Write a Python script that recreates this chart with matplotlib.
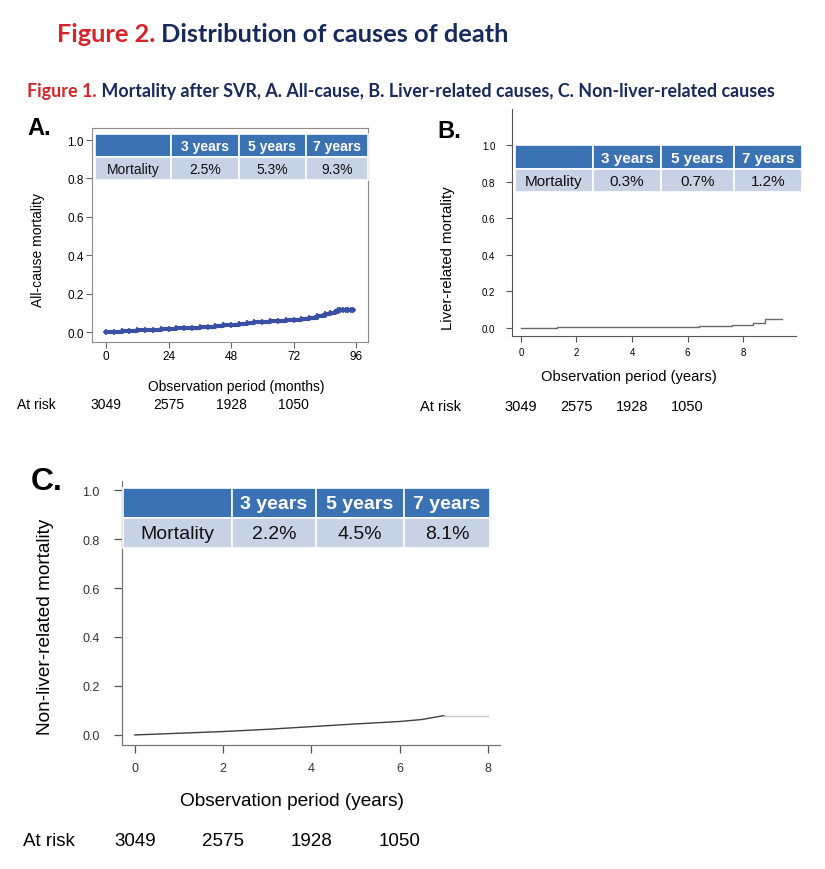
import matplotlib
matplotlib.use('Agg')
import matplotlib.pyplot as plt
import matplotlib.transforms as mtransforms
from matplotlib.patches import Rectangle

plt.rcParams['font.family'] = ['Liberation Sans', 'DejaVu Sans']

# A: all-cause mortality (months)
a_months = [0, 3, 6, 9, 12, 15, 18, 21, 24, 27, 30, 33, 36, 39, 42, 45, 48, 51, 54,
            57, 60, 63, 66, 69, 72, 75, 78, 81, 84, 86, 88, 89, 90, 91, 92, 93, 94, 95]
a_mort = [0.0, 0.002, 0.004, 0.006, 0.009, 0.011, 0.013, 0.015, 0.017, 0.019, 0.021,
          0.023, 0.025, 0.028, 0.031, 0.034, 0.038, 0.042, 0.046, 0.050, 0.053, 0.055,
          0.057, 0.060, 0.063, 0.068, 0.075, 0.083, 0.092, 0.098, 0.102, 0.117, 0.117,
          0.117, 0.117, 0.117, 0.117, 0.117]

# B: liver-related mortality (years)
b_years = [0, 1.3, 4.75, 6.4, 7.6, 8.35, 8.8, 9.4]
b_mort = [0.0, 0.003, 0.007, 0.011, 0.016, 0.025, 0.048, 0.048]

# C: non-liver-related mortality (years)
c_years = [0, 1, 2, 3, 4, 5, 6, 6.5, 7]
c_mort = [0.0, 0.007, 0.014, 0.023, 0.034, 0.045, 0.055, 0.063, 0.079]
c_tail_years = [7, 8]
c_tail_mort = [0.079, 0.079]

table_head = ['', '3 years', '5 years', '7 years']
a_table = ['Mortality', '2.5%', '5.3%', '9.3%']
b_table = ['Mortality', '0.3%', '0.7%', '1.2%']
c_table = ['Mortality', '2.2%', '4.5%', '8.1%']

risk_months = [0, 24, 48, 72]
risk_years = [0, 2, 4, 6]
at_risk = ['3049', '2575', '1928', '1050']

HEAD_BLUE = '#3b72b3'
ROW_BLUE = '#c8d2e5'
RED = '#d4262a'
NAVY = '#172a5c'

W, H = 825, 870
fig = plt.figure(figsize=(W / 100, H / 100), dpi=100)

def box(x0, y0, x1, y1):
    return [x0 / W, 1 - y1 / H, (x1 - x0) / W, (y1 - y0) / H]

ax_a = fig.add_axes(box(92, 129, 368, 343))
ax_b = fig.add_axes(box(512, 110, 796, 337))
ax_c = fig.add_axes(box(122, 482, 500, 746))

ov = fig.add_axes([0, 0, 1, 1], zorder=5)
ov.set_xlim(0, W)
ov.set_ylim(H, 0)
ov.axis('off')
ov.patch.set_visible(False)

yticks = [0, 0.2, 0.4, 0.6, 0.8, 1.0]

# --- panel A ---
ax_a.plot(a_months, a_mort, drawstyle='steps-post', color='#3a4ea6', lw=3)
ax_a.plot(a_months, a_mort, ls='none', marker='+', ms=5, mew=1.2, color='#3a4ea6')
ax_a.set_xlim(-5.4, 100.6)
ax_a.set_ylim(-0.052, 1.0625)
ax_a.set_xticks([0, 24, 48, 72, 96])
ax_a.set_yticks(yticks)
ax_a.set_yticklabels(['%.1f' % v for v in yticks])
for s in ax_a.spines.values():
    s.set_color('#8c8c8c')
ax_a.tick_params(length=4, width=0.8, color='#666666', labelsize=8.5, pad=2)

# --- panel B ---
ax_b.plot(b_years, b_mort, drawstyle='steps-post', color='#6a6a6a', lw=1)
ax_b.set_xlim(-0.32, 9.9)
ax_b.set_ylim(-0.044, 1.197)
ax_b.set_xticks([0, 2, 4, 6, 8])
ax_b.set_yticks(yticks)
ax_b.set_yticklabels(['%.1f' % v for v in yticks])
ax_b.spines[['top', 'right']].set_visible(False)
for s in ['left', 'bottom']:
    ax_b.spines[s].set_color('#555555')
    ax_b.spines[s].set_linewidth(0.8)
ax_b.tick_params(length=4, width=0.8, color='#555555', labelsize=7)
ax_b.tick_params(axis='y', pad=8)
ax_b.tick_params(axis='x', pad=4)

# --- panel C ---
ax_c.plot(c_years, c_mort, color='#404040', lw=1)
ax_c.plot(c_tail_years, c_tail_mort, color='#c8c8c8', lw=1)
ax_c.set_xlim(-0.29, 8.27)
ax_c.set_ylim(-0.041, 1.037)
ax_c.set_xticks([0, 2, 4, 6, 8])
ax_c.set_yticks(yticks)
ax_c.set_yticklabels(['%.1f' % v for v in yticks])
ax_c.spines[['top', 'right']].set_visible(False)
for s in ['left', 'bottom']:
    ax_c.spines[s].set_color('#777777')
    ax_c.spines[s].set_linewidth(0.9)
ax_c.tick_params(length=6, width=0.9, color='#555555', labelsize=9, labelcolor='#333333')
ax_c.tick_params(axis='y', pad=10)
ax_c.tick_params(axis='x', pad=6)

# --- tables ---
def draw_table(xs, ys, row, size):
    for i in range(4):
        ov.add_patch(Rectangle((xs[i], ys[0]), xs[i + 1] - xs[i], ys[1] - ys[0],
                               facecolor=HEAD_BLUE, edgecolor='white', lw=1.2))
        ov.add_patch(Rectangle((xs[i], ys[1]), xs[i + 1] - xs[i], ys[2] - ys[1],
                               facecolor=ROW_BLUE, edgecolor='white', lw=1.2))
        cx = (xs[i] + xs[i + 1]) / 2
        ov.text(cx, (ys[0] + ys[1]) / 2 + 1, table_head[i], color='white', weight='bold',
                fontsize=size, ha='center', va='center')
        ov.text(cx, (ys[1] + ys[2]) / 2 + 1, row[i], color='#111111',
                fontsize=size, ha='center', va='center')

draw_table([95, 171, 239, 306, 368], [135, 157.5, 181], a_table, 10)
draw_table([515, 593, 661, 734, 802], [146, 169.5, 193], b_table, 11)
draw_table([123, 232, 316, 404, 490], [489, 518.5, 549], c_table, 14)

# --- axis labels ---
ov.text(38, 250, 'All-cause mortality', rotation=90, ha='center', va='center', fontsize=10)
ov.text(448, 258, 'Liver-related mortality', rotation=90, ha='center', va='center', fontsize=10.7)
ov.text(46, 627, 'Non-liver-related mortality', rotation=90, ha='center', va='center', fontsize=13.7)
ov.text(236, 387, 'Observation period (months)', ha='center', va='center', fontsize=10)
ov.text(629, 377, 'Observation period (years)', ha='center', va='center', fontsize=10.6)
ov.text(292, 802, 'Observation period (years)', ha='center', va='center', fontsize=13.7)

# --- panel letters ---
ov.text(27, 135, 'A.', weight='bold', fontsize=17, va='baseline')
ov.text(437, 138, 'B.', weight='bold', fontsize=17, va='baseline')
ov.text(31, 490, 'C.', weight='bold', fontsize=23, va='baseline')

# --- at risk rows ---
def risk_row(ax, times, x_label, y, size):
    tr = mtransforms.blended_transform_factory(ax.transData, ov.transData)
    ov.text(x_label, y, 'At risk', ha='left', va='center', fontsize=size)
    for t, n in zip(times, at_risk):
        ov.text(t, y, n, transform=tr, ha='center', va='center', fontsize=size)

risk_row(ax_a, risk_months, 17, 405, 10)
risk_row(ax_b, risk_years, 420, 407, 10.5)
risk_row(ax_c, risk_years, 23, 842, 13.5)

# --- two-colour headings, fitted to width ---
renderer = fig.canvas.get_renderer()

def heading(x, y, first, rest, target_w):
    kw = dict(family=['Lato', 'DejaVu Sans'], weight='bold', va='baseline', fontsize=10)
    t1 = ov.text(x, y, first, color=RED, **kw)
    t2 = ov.text(x, y, ' ' + rest, color=NAVY, **kw)
    w = t1.get_window_extent(renderer).width + t2.get_window_extent(renderer).width
    size = 10 * target_w / w
    t1.set_fontsize(size)
    t2.set_fontsize(size)
    t2.set_x(x + t1.get_window_extent(renderer).width)

heading(57, 42, 'Figure 2.', 'Distribution of causes of death', 453)
heading(27, 97, 'Figure 1.',
        'Mortality after SVR, A. All-cause, B. Liver-related causes, C. Non-liver-related causes', 748)

plt.savefig('out.png', dpi=100)
